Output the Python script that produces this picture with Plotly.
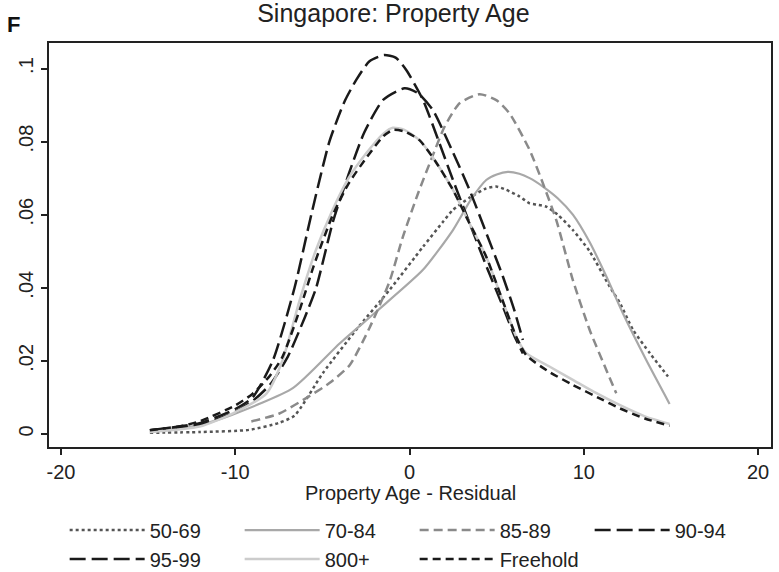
import plotly.graph_objects as go

# ---- data ----
x_50_69 = [-14.9, -12.0, -9.2, -7.5, -6.6, -4.98, -3.06, -1.15, 0.77, 1.91, 2.49, 3.5, 4.4, 4.97, 5.55, 6.3, 6.89, 7.27, 7.84, 8.5, 9.37, 10.33, 11.48, 12.05, 12.82, 13.8, 14.83]
y_50_69 = [0.0003, 0.0005, 0.0011, 0.003, 0.005, 0.0166, 0.0285, 0.0394, 0.0512, 0.0580, 0.0613, 0.0648, 0.0672, 0.0677, 0.0668, 0.0650, 0.0631, 0.0628, 0.0622, 0.0600, 0.0558, 0.0500, 0.0403, 0.0360, 0.0285, 0.0220, 0.0157]

x_70_84 = [-14.9, -12.0, -10.2, -6.7, -4.0, -1.9, 0.77, 2.49, 3.5, 4.4, 5.0, 5.64, 6.3, 6.89, 7.65, 8.5, 9.37, 10.33, 11.3, 12.24, 13.58, 14.92]
y_70_84 = [0.0005, 0.0025, 0.0052, 0.0125, 0.0248, 0.0335, 0.0449, 0.0558, 0.064, 0.0695, 0.0710, 0.0717, 0.0712, 0.0700, 0.0677, 0.0645, 0.0600, 0.0525, 0.0430, 0.0330, 0.0202, 0.0082]

x_85_89 = [-9.08, -7.5, -6.1, -4.6, -3.44, -2.3, -1.15, -0.38, 0.5, 1.34, 2.0, 2.87, 4.02, 5.0, 5.74, 6.89, 7.65, 8.42, 9.37, 10.33, 11.29, 11.86]
y_85_89 = [0.0034, 0.0055, 0.0093, 0.0139, 0.0188, 0.0290, 0.0417, 0.054, 0.066, 0.0763, 0.084, 0.0905, 0.0930, 0.0913, 0.0877, 0.0777, 0.0686, 0.0585, 0.0421, 0.0285, 0.0175, 0.0111]

x_90_94 = [-14.9, -12.0, -10.0, -9.0, -8.0, -7.0, -6.0, -5.36, -4.4, -3.5, -2.6, -1.5, -0.29, 0.5, 1.34, 2.4, 3.44, 4.4, 5.36, 6.0, 6.5]
y_90_94 = [0.001, 0.0025, 0.006, 0.009, 0.0135, 0.021, 0.032, 0.040, 0.058, 0.071, 0.0825, 0.0915, 0.0946, 0.0932, 0.0886, 0.0780, 0.0668, 0.0550, 0.0430, 0.0340, 0.0257]

x_95_99 = [-14.9, -12.0, -10.0, -9.0, -7.85, -6.6, -5.64, -4.6, -3.73, -3.06, -2.3, -1.47, -0.8, -0.19, 0.77, 1.72, 2.49, 3.5, 4.4, 5.36, 6.0, 6.5]
y_95_99 = [0.001, 0.003, 0.0068, 0.010, 0.020, 0.040, 0.060, 0.080, 0.091, 0.0969, 0.1020, 0.1037, 0.1030, 0.0996, 0.0914, 0.0795, 0.0695, 0.0570, 0.0460, 0.0348, 0.0270, 0.0220]

x_800 = [-14.9, -12.05, -10.1, -8.2, -7.3, -6.3, -5.4, -4.4, -3.5, -2.49, -1.5, -0.96, -0.3, 0.57, 1.5, 2.49, 3.4, 4.4, 5.3, 6.12, 6.7, 8.0, 9.37, 10.7, 12.05, 13.5, 14.92]
y_800 = [0.0005, 0.002, 0.0057, 0.0111, 0.020, 0.0367, 0.050, 0.0615, 0.0700, 0.0768, 0.0822, 0.0838, 0.0832, 0.0804, 0.0745, 0.0668, 0.0580, 0.0485, 0.0370, 0.0266, 0.0221, 0.0185, 0.0148, 0.0112, 0.0079, 0.0048, 0.0027]

x_free = [-14.9, -13.0, -12.0, -10.0, -9.0, -8.0, -7.3, -6.3, -5.5, -4.4, -3.5, -2.49, -1.5, -0.96, -0.3, 0.57, 1.5, 2.49, 3.4, 4.4, 5.3, 6.12, 6.7, 8.0, 9.37, 11.0, 12.05, 13.5, 14.92]
y_free = [0.001, 0.0022, 0.0035, 0.0078, 0.011, 0.016, 0.021, 0.034, 0.046, 0.060, 0.0685, 0.0755, 0.0815, 0.0832, 0.0828, 0.0804, 0.0745, 0.0668, 0.0580, 0.0485, 0.0370, 0.0266, 0.0215, 0.0170, 0.0134, 0.0095, 0.0070, 0.0042, 0.0022]

x_ticks = [-20, -10, 0, 10, 20]
x_ticktext = ["-20", "-10", "0", "10", "20"]
y_ticks = [0, 0.02, 0.04, 0.06, 0.08, 0.1]
y_ticktext = ["0", ".02", ".04", ".06", ".08", ".1"]

series = [
    ("50-69", x_50_69, y_50_69, "#555555", "3px,3px", 2.5),
    ("70-84", x_70_84, y_70_84, "#a8a8a8", "solid", 2.2),
    ("85-89", x_85_89, y_85_89, "#8a8a8a", "9px,5px", 2.5),
    ("90-94", x_90_94, y_90_94, "#1a1a1a", "16px,6px", 2.5),
    ("95-99", x_95_99, y_95_99, "#1a1a1a", "16px,6px", 2.5),
    ("800+", x_800, y_800, "#cccccc", "solid", 2.5),
    ("Freehold", x_free, y_free, "#1a1a1a", "8px,5px", 2.5),
]

FONT = "Liberation Sans, Arial, sans-serif"
TXT = "#222222"

fig = go.Figure()
for name, xs, ys, col, dash, w in series:
    fig.add_trace(go.Scatter(x=xs, y=ys, mode="lines", name=name,
                             line=dict(color=col, dash=dash, width=w, shape="spline", smoothing=0.6)))

fig.update_layout(
    width=779, height=572,
    margin=dict(l=49, r=8, t=43, b=125, autoexpand=False),
    paper_bgcolor="white", plot_bgcolor="white",
    font=dict(family=FONT, size=19, color=TXT),
    title=dict(text="Singapore: Property Age", x=0.505, xanchor="center", y=0.977, yanchor="middle",
               font=dict(family=FONT, size=25, color=TXT)),
    showlegend=True,
    legend=dict(orientation="h", xref="container", yref="container", x=0.083, xanchor="left",
                y=0.048, yanchor="middle",
                entrywidth=85, entrywidthmode="pixels", itemwidth=75,
                font=dict(family=FONT, size=20, color=TXT), tracegroupgap=0),
    xaxis=dict(range=[-20.69, 20.74], tickvals=x_ticks, ticktext=x_ticktext, ticks="outside",
               ticklen=6, tickwidth=1.5, tickcolor=TXT, showgrid=False, zeroline=False,
               showline=True, linewidth=2, linecolor=TXT, mirror=True,
               tickfont=dict(size=20)),
    yaxis=dict(range=[-0.0036, 0.107], tickvals=y_ticks, ticktext=y_ticktext, tickangle=-90,
               ticks="outside", ticklen=6, tickwidth=1.5, tickcolor=TXT, showgrid=False,
               tickfont=dict(size=20),
               zeroline=False, showline=True, linewidth=2, linecolor=TXT, mirror=True),
)

# x-axis title placed as a text annotation just below the tick labels
fig.add_annotation(text="Property Age - Residual", xref="paper", yref="paper", x=0.5, y=-0.113,
                   xanchor="center", yanchor="middle", showarrow=False,
                   font=dict(family=FONT, size=20, color=TXT))

fig.add_annotation(text="<b>F</b>", xref="paper", yref="paper", x=-0.049, y=1.047,
                   xanchor="center", yanchor="middle", showarrow=False,
                   font=dict(family=FONT, size=22, color="#111111"))

fig.write_html("out.html")
